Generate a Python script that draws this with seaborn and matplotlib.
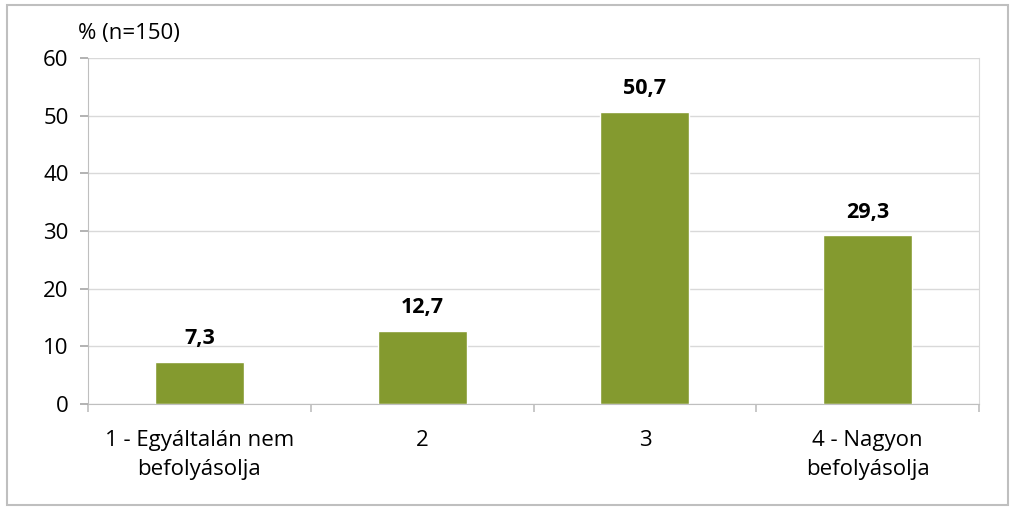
import pandas as pd
import matplotlib
matplotlib.use('Agg')
import matplotlib.pyplot as plt
import seaborn as sns
from matplotlib.patches import Rectangle

# Data
categories = ['1 - Egyáltalán nem\nbefolyásolja', '2', '3', '4 - Nagyon\nbefolyásolja']
values = [7.3, 12.7, 50.7, 29.3]
value_labels = ['7,3', '12,7', '50,7', '29,3']
y_ticks = [0, 10, 20, 30, 40, 50, 60]

data = pd.DataFrame({'cat': categories, 'val': values})

sns.set_style('white')
plt.rcParams['font.family'] = ['Open Sans', 'DejaVu Sans']
plt.rcParams['text.color'] = 'black'
plt.rcParams['xtick.color'] = 'black'
plt.rcParams['ytick.color'] = 'black'
plt.rcParams['ytick.left'] = True
plt.rcParams['xtick.bottom'] = True

fig = plt.figure(figsize=(10.1, 5.07), dpi=100)
ax = fig.add_axes([88 / 1010, 1 - 404 / 507, (979 - 88) / 1010, (404 - 58) / 507])

sns.barplot(data=data, x='cat', y='val', color='#849a2f', saturation=1, width=0.4, ax=ax)

ax.set_ylim(0, 60)
ax.set_xlim(-0.5, 3.5)
ax.set_yticks(y_ticks)
ax.set_yticklabels([str(t) for t in y_ticks], fontsize=16)
ax.yaxis.grid(True, color='#d9d9d9', linewidth=1)
ax.set_axisbelow(True)
ax.set_xlabel('')
ax.set_ylabel('')

# category labels centred, tick marks between categories
ax.set_xticks(range(len(categories)))
ax.set_xticklabels(categories, fontsize=16, linespacing=1.5)
ax.tick_params(axis='x', which='major', length=0, pad=19, bottom=True)
ax.set_xticks([-0.5, 0.5, 1.5, 2.5, 3.5], minor=True)
ax.tick_params(axis='x', which='minor', length=6, color='#bfbfbf', width=1.2,
               direction='out', bottom=True)
ax.yaxis.set_ticks_position('left')
ax.tick_params(axis='y', which='major', length=6, color='#a6a6a6', labelcolor='black',
               width=1.2, direction='out', pad=8, left=True)

ax.spines['top'].set_visible(False)
ax.spines['right'].set_visible(True)
ax.spines['right'].set_color('#d9d9d9')
ax.spines['left'].set_color('#bfbfbf')
ax.spines['bottom'].set_color('#bfbfbf')

for i, (v, lab) in enumerate(zip(values, value_labels)):
    ax.annotate(lab, (i, v), xytext=(0, 9), textcoords='offset points',
                ha='center', va='bottom', fontsize=15.5, fontweight='bold')

fig.text(78 / 1010, 1 - 33 / 507, '% (n=150)', fontsize=16, va='center', ha='left')

# outer chart border
fig.patches.append(Rectangle((7 / 1010, 1 - 505 / 507), 1001 / 1010, 500 / 507,
                             transform=fig.transFigure, fill=False,
                             edgecolor='#bfbfbf', linewidth=1.5))

fig.savefig('out.png', dpi=100)
